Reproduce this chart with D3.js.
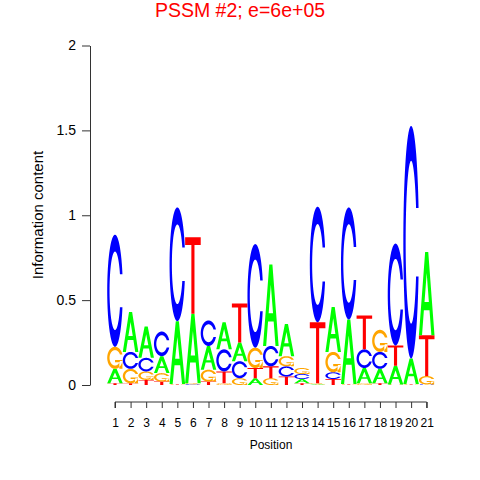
<!DOCTYPE html>
<html><head><meta charset="utf-8">
<script src="https://cdn.jsdelivr.net/npm/d3@7"></script>
<style>body{margin:0;background:#fff}svg{display:block}text{font-family:"Liberation Sans",Arial,sans-serif}</style>
</head><body>
<script>
const positions = d3.range(1, 22);
const bitsA = [0.085,0.235,0.185,0.10,0.37,0.41,0.14,0.16,0.11,0.04,0.48,0.19,0.025,0.005,0.265,0.38,0.09,0.085,0.11,0.15,0.49];
const bitsC = [0.66,0.10,0.08,0.145,0.67,0.005,0.15,0.13,0.10,0.61,0.12,0.06,0.03,0.68,0.04,0.66,0.11,0.10,0.60,1.37,0.003];
const bitsG = [0.13,0.085,0.05,0.05,0.003,0.005,0.07,0.01,0.04,0.12,0.04,0.06,0.035,0.005,0.12,0.003,0.01,0.13,0.003,0.003,0.05];
const bitsT = [0.01,0.01,0.03,0.02,0.003,0.45,0.02,0.07,0.23,0.06,0.07,0.05,0.01,0.36,0.035,0.003,0.20,0.01,0.12,0.003,0.24];
const yTicks = [0, 0.5, 1, 1.5, 2];
const title = "PSSM #2; e=6e+05";
const colors = {A:"#00FF00", C:"#0000FF", G:"#FFA500", T:"#FF0000"};

const W = 480, H = 480;
const svg = d3.select("body").append("svg").attr("width", W).attr("height", H);
const x = d3.scaleLinear().domain([1, 21]).range([115, 426.7]);
const y = d3.scaleLinear().domain([0, 2]).range([385, 45.5]);
const colW = x(2) - x(1);

function arcPts(r, a0, a1, n) {
  const out = [];
  for (let i = 0; i < n; i++) { const a = a0 + (a1 - a0) * i / (n - 1); out.push([0.5 + r * Math.sin(a), 0.5 + r * Math.cos(a)]); }
  return out;
}
function cShape() {
  const a1 = arcPts(0.5, 0.3 + Math.PI / 2, Math.PI, 60), a2 = arcPts(0.5, Math.PI, 1.5 * Math.PI, 60);
  const outer = a1.concat(a2);
  const maxY = d3.max(a1, d => d[1]);
  const full = outer.concat(outer.slice().reverse().map(d => [d[0], 1 - d[1]]));
  let i1 = arcPts(0.35, 0.3 + Math.PI / 2, Math.PI, 60).filter(d => d[1] <= maxY);
  i1[0] = [i1[0][0], maxY];
  const i2 = arcPts(0.35, Math.PI, 1.5 * Math.PI, 60);
  const inner = i1.concat(i2);
  const fullIn = inner.concat(inner.slice().reverse().map(d => [d[0], 1 - d[1]]));
  return [full.concat(fullIn.slice().reverse())];
}
const shapes = {
  A: () => [
    [[0,0],[0.4,1],[0.6,1],[1,0],[0.8,0],[0.68,0.3],[0.32,0.3],[0.2,0]],
    [[0.36,0.4],[0.5,0.75],[0.64,0.4]]
  ],
  C: cShape,
  G: () => {
    const r1 = 0.5 + 0.5 * Math.sin(0.3 + Math.PI / 2), h1 = 0.4;
    return cShape().concat([[[r1,h1],[0.5,h1],[0.5,h1-0.1],[r1-0.2,h1-0.1],[r1-0.2,0],[r1,0]]]);
  },
  T: () => [[[0,1],[1,1],[1,0.9],[0.6,0.9],[0.6,0],[0.4,0],[0.4,0.9],[0,0.9]]]
};

const letters = [];
positions.forEach((p, i) => {
  const stack = [["A", bitsA[i]], ["C", bitsC[i]], ["G", bitsG[i]], ["T", bitsT[i]]].sort((a, b) => a[1] - b[1]);
  let base = 0;
  stack.forEach(([b, h]) => { letters.push({pos: p, base: b, y0: base, h: h}); base += h; });
});

svg.append("g").selectAll("path").data(letters).join("path")
  .attr("fill", d => colors[d.base])
  .attr("fill-rule", "evenodd")
  .attr("d", d => {
    const left = x(d.pos) - colW / 2;
    return shapes[d.base]().map(poly => "M" + poly.map(([u, v]) => [left + u * colW, y(d.y0 + v * d.h)].map(n => n.toFixed(2)).join(",")).join("L") + "Z").join("");
  });

const yAxis = svg.append("g").attr("transform", "translate(90,0)")
  .call(d3.axisLeft(y).tickValues(yTicks).tickFormat(d3.format("")).tickSize(8).tickSizeOuter(0));
yAxis.select(".domain").attr("stroke", "#333");
yAxis.selectAll(".tick line").attr("stroke", "#333");
yAxis.selectAll("text").attr("font-size", 14).attr("fill", "#000").attr("x", -14);

const xAxis = svg.append("g").attr("transform", "translate(0,402)")
  .call(d3.axisBottom(x).tickValues(positions).tickFormat(d3.format("d")).tickSize(6).tickSizeOuter(0));
xAxis.select(".domain").attr("stroke", "#333").attr("d", `M${x(1)},6V0H${x(21)}V6`);
xAxis.selectAll(".tick line").attr("stroke", "#333");
xAxis.selectAll("text").attr("font-size", 12).attr("fill", "#000").attr("y", 16);

svg.append("text").attr("x", 271).attr("y", 449).attr("text-anchor", "middle").attr("font-size", 12).text("Position");
svg.append("text").attr("transform", "translate(43,215) rotate(-90)").attr("text-anchor", "middle").attr("font-size", 15).text("Information content");
svg.append("text").attr("x", 240).attr("y", 17).attr("text-anchor", "middle").attr("font-size", 19.5).attr("fill", "#FF0000").text(title);
</script>
</body></html>
